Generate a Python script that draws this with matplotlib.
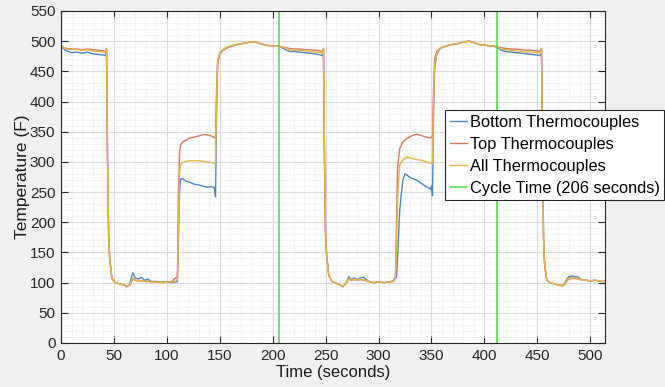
import matplotlib
matplotlib.use("Agg")
import matplotlib.pyplot as plt
from matplotlib.ticker import MultipleLocator

plt.rcParams['font.family'] = ['Liberation Sans', 'DejaVu Sans']

# ---- data ----
time_s = [0, 2, 5, 10, 15, 20, 25, 30, 35, 40, 42, 43, 44, 45, 46, 48, 51, 55, 60, 62, 65, 67, 68, 70,
          73, 76, 79, 82, 85, 90, 95, 100, 105, 107, 109, 110, 111, 112, 113, 115, 118, 122, 126, 130,
          134, 138, 142, 144, 145, 146, 147, 148, 150, 153, 157, 162, 168, 175, 180, 185, 190, 195, 200,
          205, 208, 212, 216, 220, 225, 230, 235, 240, 245, 247, 248, 249, 250, 251, 253, 256, 260, 263,
          266, 268, 270, 272, 274, 277, 280, 283, 286, 289, 292, 296, 300, 305, 310, 314, 316, 317, 318,
          320, 323, 325, 327, 331, 336, 340, 345, 349, 350, 351, 352, 353, 355, 358, 362, 368, 375, 381,
          386, 391, 396, 402, 408, 412, 416, 420, 425, 430, 435, 440, 445, 450, 453, 454, 455, 456, 457,
          459, 462, 466, 470, 474, 476, 478, 480, 483, 486, 489, 492, 496, 500, 505, 510, 514]

bottom_tc = [492, 488, 484, 481, 482, 480, 482, 479, 478, 477, 476, 486, 300, 180, 140, 108, 100, 98, 96, 93,
             97, 112, 116, 108, 106, 109, 104, 106, 102, 102, 101, 101, 100, 101, 101, 102, 180, 250, 272,
             272, 268, 266, 263, 262, 260, 258, 259, 258, 256, 242, 380, 462, 479, 485, 489, 492, 495, 497,
             499, 498, 495, 493, 492, 492, 490, 486, 483, 483, 482, 481, 480, 479, 477, 476, 486, 300, 180,
             145, 112, 102, 99, 97, 93, 96, 101, 110, 105, 108, 105, 108, 109, 104, 101, 100, 101, 100, 101,
             103, 108, 108, 140, 220, 270, 280, 278, 273, 270, 265, 259, 255, 260, 244, 380, 455, 478, 487,
             491, 494, 496, 499, 500, 497, 494, 493, 492, 490, 485, 483, 482, 481, 480, 479, 478, 477, 476,
             486, 300, 170, 130, 104, 100, 98, 96, 95, 99, 106, 110, 111, 110, 109, 104, 104, 103, 104, 102, 102]

top_tc = [493, 490, 488, 487, 487, 486, 487, 486, 485, 484, 483, 488, 300, 180, 140, 108, 100, 98, 96, 94,
          96, 103, 106, 104, 103, 103, 102, 102, 101, 101, 100, 101, 102, 106, 108, 110, 250, 315, 328,
          333, 336, 340, 341, 343, 345, 345, 343, 341, 340, 342, 420, 468, 481, 486, 490, 493, 495, 497,
          499, 498, 495, 493, 492, 492, 491, 489, 488, 487, 487, 486, 486, 485, 484, 483, 488, 300, 180,
          145, 112, 102, 99, 97, 94, 96, 100, 106, 104, 105, 104, 105, 104, 103, 101, 100, 101, 100, 101,
          102, 110, 200, 290, 322, 333, 336, 339, 343, 346, 344, 341, 340, 341, 342, 420, 470, 483, 488,
          491, 494, 496, 499, 500, 497, 494, 493, 492, 491, 489, 488, 487, 487, 486, 485, 485, 484, 483,
          488, 300, 170, 130, 104, 100, 98, 96, 95, 97, 103, 106, 107, 107, 106, 104, 104, 103, 104, 102, 102]

all_tc = [493, 490, 487, 486, 486, 485, 486, 484, 483, 482, 481, 487, 300, 180, 140, 108, 100, 98, 96, 94,
          96, 104, 108, 104, 103, 104, 102, 103, 101, 101, 100, 101, 101, 102, 103, 105, 200, 280, 295,
          299, 301, 302, 302, 302, 301, 300, 299, 298, 297, 298, 400, 465, 480, 486, 490, 493, 495, 497,
          499, 498, 495, 493, 492, 492, 491, 488, 486, 485, 485, 484, 483, 482, 481, 480, 487, 300, 180,
          145, 112, 102, 99, 97, 94, 96, 100, 107, 104, 106, 104, 106, 105, 103, 101, 100, 101, 100, 101,
          102, 106, 160, 240, 295, 303, 306, 308, 306, 304, 303, 300, 298, 298, 297, 400, 460, 480, 488,
          491, 494, 496, 499, 500, 497, 494, 493, 492, 491, 487, 486, 485, 484, 483, 482, 482, 481, 480,
          487, 300, 170, 130, 104, 100, 98, 96, 95, 98, 104, 107, 108, 108, 107, 104, 104, 103, 104, 102, 102]

cycle_times = [206, 412]
series_labels = ['Bottom Thermocouples', 'Top Thermocouples', 'All Thermocouples',
                 'Cycle Time (206 seconds)']
x_ticks = list(range(0, 501, 50))
y_ticks = list(range(0, 551, 50))

# ---- figure ----
fig = plt.figure(figsize=(6.65, 3.87), dpi=100, facecolor='#f0f0f0')
ax = fig.add_axes([61 / 665, 44 / 387, 544 / 665, 332 / 387])
ax.set_facecolor('white')

ax.plot(time_s, bottom_tc, color='#4f86c4', lw=1.0, label=series_labels[0])
ax.plot(time_s, top_tc, color='#d4775f', lw=1.0, label=series_labels[1])
ax.plot(time_s, all_tc, color='#e6b54a', lw=1.0, label=series_labels[2])
for i, ct in enumerate(cycle_times):
    ax.axvline(ct, color='#55dd55', lw=1.2, label=series_labels[3] if i == 0 else None)

ax.set_xlim(0, 514)
ax.set_ylim(0, 550)
ax.set_xticks(x_ticks)
ax.set_yticks(y_ticks)
ax.xaxis.set_minor_locator(MultipleLocator(10))
ax.yaxis.set_minor_locator(MultipleLocator(10))
ax.grid(True, which='major', color='#dadada', lw=0.8)
ax.grid(True, which='minor', color='#e8e8e8', lw=0.6, ls=(0, (1.5, 1.5)))
ax.set_axisbelow(True)
ax.tick_params(which='major', direction='in', length=5, width=0.8, top=True, right=True,
               labelsize=11, colors='#262626', pad=4)
ax.tick_params(which='minor', length=0, top=True, right=True)
for sp in ax.spines.values():
    sp.set_color('#262626')
    sp.set_linewidth(0.8)

ax.set_xlabel('Time (seconds)', fontsize=12, color='#1a1a1a', labelpad=2)
ax.set_ylabel('Temperature (F)', fontsize=12.5, color='#1a1a1a', labelpad=0)

leg = ax.legend(loc='upper left', bbox_to_anchor=(445 / 665, 1 - 110 / 387),
                bbox_transform=fig.transFigure, fontsize=11.8, fancybox=False,
                framealpha=1, edgecolor='#262626', handlelength=1.05, handletextpad=0.15,
                labelspacing=0.42, borderpad=0.3, borderaxespad=0)
leg.get_frame().set_linewidth(0.8)

fig.savefig('out.png', dpi=100, facecolor=fig.get_facecolor())
